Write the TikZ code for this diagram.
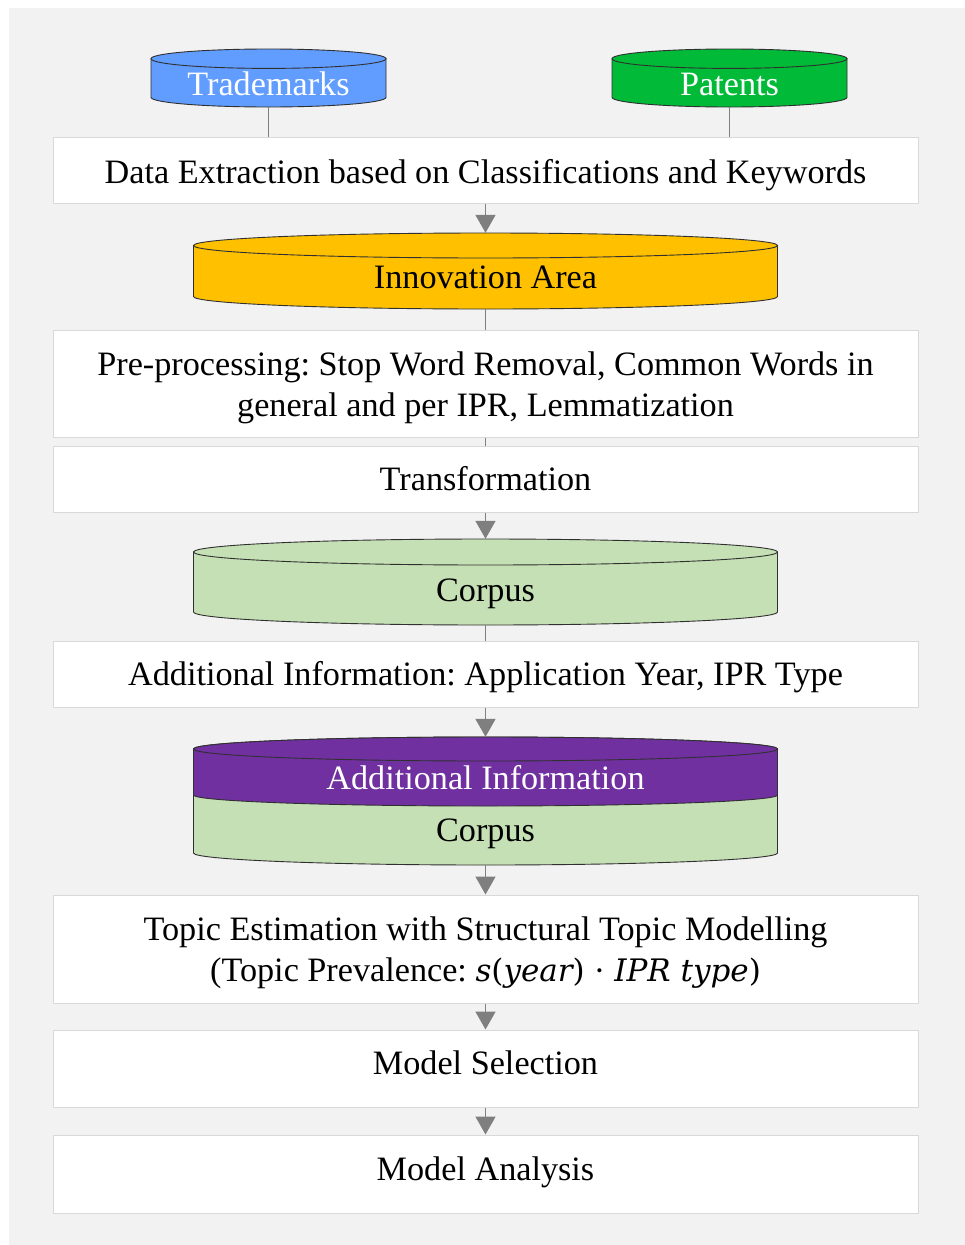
\documentclass[tikz,border=0pt]{standalone}
\usepackage{fontspec}
\setmainfont{Liberation Serif}
\newfontfamily\formulafont{DejaVu Serif}
\usetikzlibrary{arrows.meta}

\definecolor{bggray}{HTML}{F2F2F2}
\definecolor{boxline}{HTML}{D9D9D9}
\definecolor{linkgray}{HTML}{7F7F7F}
\definecolor{cyledge}{HTML}{303030}
\definecolor{tmblue}{HTML}{619CFF}
\definecolor{ptgreen}{HTML}{00BA38}
\definecolor{iagold}{HTML}{FFC000}
\definecolor{corpusgreen}{HTML}{C5E0B4}
\definecolor{addpurple}{HTML}{7030A0}

\tikzset{
  box/.style={draw=boxline, fill=white, line width=1pt, minimum width=865pt, inner sep=0pt},
  lbl/.style={anchor=base, font=\fontsize{34.2}{41}\selectfont\frenchspacing, inner sep=0pt},
  link/.style={draw=linkgray, line width=1.8pt},
  flow/.style={link, -{Triangle[width=20pt,length=18pt]}},
  cylout/.style={draw=cyledge, line width=0.9pt},
}

% database cylinder: name, centre x, top y, bottom y, half width, end radius, fill
\newcommand{\drawdb}[7]{%
  \node[inner sep=0pt, minimum width={2pt*#5}, minimum height={(#4-#3)*1pt}] (#1) at (#2,{(#3+#4)/2}) {};
  \path[cylout, fill=#7] (#2-#5,#3+#6) -- (#2-#5,#4-#6)
    arc[start angle=180, end angle=360, x radius=#5pt, y radius=#6pt] -- (#2+#5,#3+#6) -- cycle;
  \path[cylout, fill=#7] (#2,#3+#6) ellipse[x radius=#5pt, y radius=#6pt];
}

% italic formula text with upright delimiters
\newcommand{\prevformula}{{\formulafont\fontsize{31}{41}\selectfont
  \itshape s\upshape(\itshape year\upshape) · \itshape IPR type\upshape)}}

\begin{document}
\begin{tikzpicture}[x=1pt, y=-1pt]
  \useasboundingbox (0,0) rectangle (965,1245);
  \fill[bggray] (9,8) rectangle (965,1245);

  % sources
  \drawdb{tm}{268.5}{49}{107}{117.5}{9.7}{tmblue}
  \drawdb{pt}{729.5}{49}{107}{117.5}{9.7}{ptgreen}
  \node[lbl, text=white] (tmt) at (268.5,95) {Trademarks};
  \node[lbl, text=white] (ptt) at (729.5,95) {Patents};

  % processing steps
  \node[box, minimum height=66pt]  (b1) at (485.5,170) {};
  \node[box, minimum height=107pt] (b2) at (485.5,383.5) {};
  \node[box, minimum height=66pt]  (b3) at (485.5,479) {};
  \node[box, minimum height=66pt]  (b4) at (485.5,674) {};
  \node[box, minimum height=108pt] (b5) at (485.5,949) {};
  \node[box, minimum height=77pt]  (b6) at (485.5,1068.5) {};
  \node[box, minimum height=78pt]  (b7) at (485.5,1174) {};

  \node[lbl] (b1t)  at (485.5,183) {Data Extraction based on Classifications and Keywords};
  \node[lbl] (b2ta) at (485.5,375) {Pre-processing: Stop Word Removal, Common Words in};
  \node[lbl] (b2tb) at (485.5,416) {general and per IPR, Lemmatization};
  \node[lbl] (b3t)  at (485.5,490) {Transformation};
  \node[lbl] (b4t)  at (485.5,685) {Additional Information: Application Year, IPR Type};
  \node[lbl] (b5ta) at (485.5,940) {Topic Estimation with Structural Topic Modelling};
  \node[lbl] (b5tb) at (485.5,981) {(Topic Prevalence: \prevformula};
  \node[lbl] (b6t)  at (485.5,1074) {Model Selection};
  \node[lbl] (b7t)  at (485.5,1180) {Model Analysis};

  % data stores
  \drawdb{ia}{485.5}{233}{309}{292}{12.5}{iagold}
  \node[lbl] (iat) at (485.5,288) {Innovation Area};

  \drawdb{cp}{485.5}{539}{625}{292}{13}{corpusgreen}
  \node[lbl] (cpt) at (485.5,601) {Corpus};

  \drawdb{ac}{485.5}{737}{865}{292}{12}{corpusgreen}
  \path[cylout, fill=addpurple] (193.5,749) -- (193.5,795)
    arc[start angle=180, end angle=360, x radius=292pt, y radius=11pt] -- (777.5,749) -- cycle;
  \path[cylout, fill=addpurple] (485.5,749) ellipse[x radius=292pt, y radius=12pt];
  \node[lbl, text=white] (act) at (485.5,789) {Additional Information};
  \node[lbl] (acc) at (485.5,841) {Corpus};

  % connectors
  \draw[link] (tm.south) -- (tm.south |- b1.north);
  \draw[link] (pt.south) -- (pt.south |- b1.north);
  \draw[flow] (b1) -- (ia);
  \draw[link] (ia) -- (b2);
  \draw[link] (b2) -- (b3);
  \draw[flow] (b3) -- (cp);
  \draw[link] (cp) -- (b4);
  \draw[flow] (b4) -- (ac);
  \draw[flow] (ac) -- (b5);
  \draw[flow] (b5) -- (b6);
  \draw[flow] (b6) -- (b7);
\end{tikzpicture}
\end{document}
